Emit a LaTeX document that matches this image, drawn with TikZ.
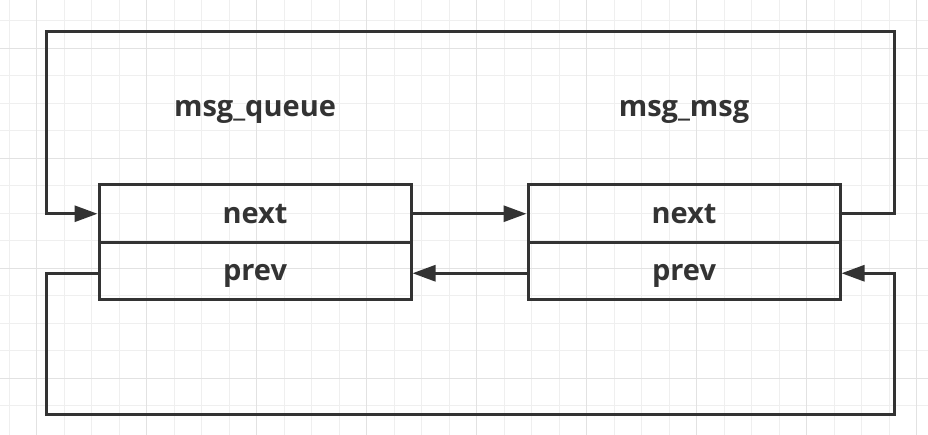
\documentclass[tikz,border=0pt]{standalone}
\usepackage{fontspec}
\setmainfont{Open Sans}
\usetikzlibrary{arrows.meta}
\definecolor{ink}{HTML}{333333}
\definecolor{gridminor}{HTML}{EFEFEF}
\definecolor{gridmajor}{HTML}{E2E2E2}
\newcommand\gridlines[5]{
    \foreach \k in {0,...,#3} {
        \draw[#4] ({#1+#2*\k},0) -- ({#1+#2*\k},435);
    }
    \foreach \k in {0,...,#5} {
        \draw[#4] (0,{#1+11.6+#2*\k}) -- (928,{#1+11.6+#2*\k});
    }
}

\begin{document}
\begin{tikzpicture}[x=1pt, y=-1pt,
    cell/.style={draw=ink, line width=3pt, minimum width=312pt, minimum height=57.5pt,
        inner sep=0pt, text=ink, font=\fontsize{29}{32}\selectfont\bfseries,
        text height=21pt, text depth=2pt},
    title/.style={anchor=base, text=ink, font=\fontsize{29}{32}\selectfont\bfseries},
    link/.style={draw=ink, line width=3pt, -{Triangle[length=23pt,width=16pt]}}]

    \useasboundingbox[fill=white] (0,0) rectangle (928,435);

    % background grid
    \gridlines{9.2}{27.5}{33}{gridminor, line width=1pt}{14}
    \gridlines{36.7}{110}{8}{gridmajor, line width=1pt}{3}

    % structures
    \node[title] (qtitle) at (255,116.7) {msg\_queue};
    \node[title] (mtitle) at (684,116.7) {msg\_msg};

    \node[cell] (qnext) at (255,213.75) {next};
    \node[cell] (qprev) at (255,271.25) {prev};
    \node[cell] (mnext) at (684,213.75) {next};
    \node[cell] (mprev) at (684,271.25) {prev};

    \coordinate (tl) at (46,32);
    \coordinate (tr) at (894,32);
    \coordinate (bl) at (46,414);
    \coordinate (br) at (894,414);

    % pointers
    \draw[link] (qnext.east) -- (mnext.west);
    \draw[link] ([yshift=-2pt]mprev.west) -- ([yshift=-2pt]qprev.east);
    \draw[link] (mnext.east) -| (tr) -- (tl) |- (qnext.west);
    \draw[link] ([yshift=-2pt]qprev.west) -| (bl) -- (br) |- ([yshift=-2pt]mprev.east);
\end{tikzpicture}
\end{document}
